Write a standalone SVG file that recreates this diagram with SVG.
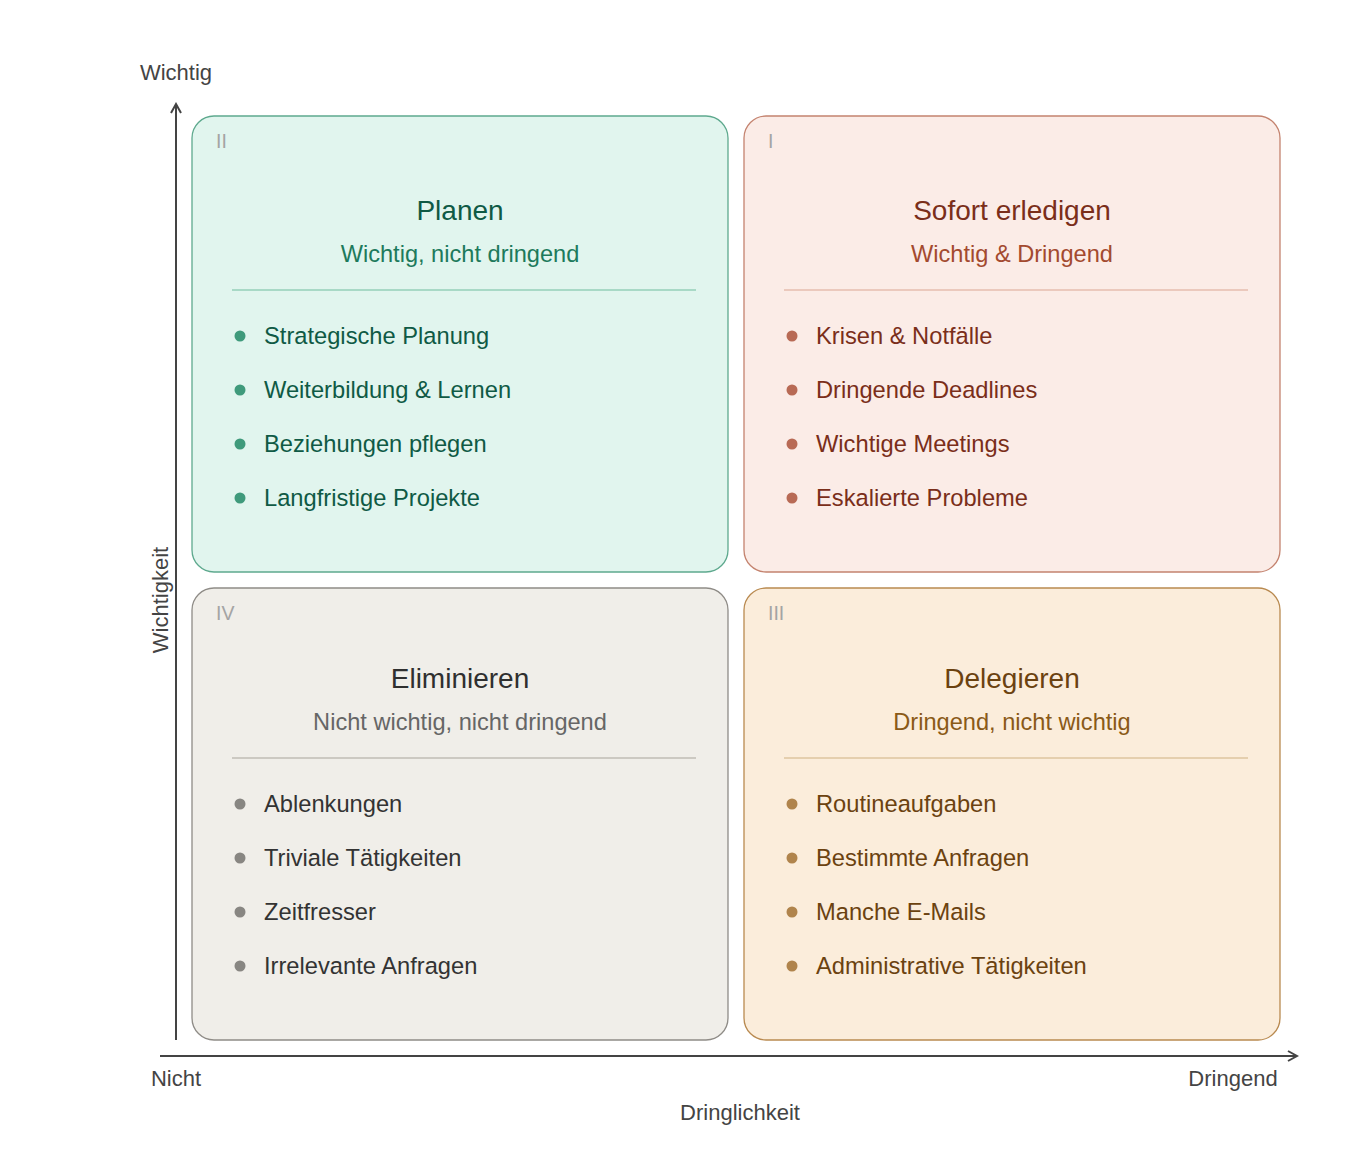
<svg xmlns="http://www.w3.org/2000/svg" width="1360" height="1160" viewBox="0 0 1360 1160">
<defs>
<style>
text{font-family:"Liberation Sans",Arial,sans-serif}
.ax{fill:#444;font-size:22px}
.num{fill:#a4a4a4;font-size:19.5px}
.t{font-size:28px;text-anchor:middle}
.s{font-size:23.6px;text-anchor:middle}
.i{font-size:23.7px}
.axis{stroke:#444;stroke-width:2;fill:none}
</style>
<marker id="arr" viewBox="0 0 12 12" refX="10" refY="6" markerWidth="12" markerHeight="12" markerUnits="userSpaceOnUse" orient="auto">
<path d="M1,1 L10,6 L1,11" fill="none" stroke="#444" stroke-width="2"/>
</marker>
</defs>
<rect width="1360" height="1160" fill="#fff"/>
<g id="connectors">
<line class="axis" x1="176" y1="1040" x2="176" y2="104" marker-end="url(#arr)"/>
<line class="axis" x1="160" y1="1056" x2="1297" y2="1056" marker-end="url(#arr)"/>
</g>
<g id="axis-labels">
<text class="ax" x="176" y="80" text-anchor="middle">Wichtig</text>
<text class="ax" x="176" y="1086" text-anchor="middle">Nicht</text>
<text class="ax" x="1233" y="1086" text-anchor="middle">Dringend</text>
<text class="ax" x="740" y="1120" text-anchor="middle">Dringlichkeit</text>
<text class="ax" x="0" y="0" text-anchor="middle" transform="translate(168,600) rotate(-90)">Wichtigkeit</text>
</g>
<g id="q2">
<rect x="192" y="116" width="536" height="456" rx="22" fill="#e1f5ee" stroke="#5ea98e" stroke-width="1.3"/>
<text class="num" x="216" y="148">II</text>
<text class="t" x="460" y="220" fill="#0f5a45">Planen</text>
<text class="s" x="460" y="262" fill="#1d7a5c">Wichtig, nicht dringend</text>
<line x1="232" y1="290" x2="696" y2="290" stroke="#a8d9c6" stroke-width="2"/>
<g fill="#3f9a7b"><circle cx="240" cy="336" r="5.5"/><circle cx="240" cy="390" r="5.5"/><circle cx="240" cy="444" r="5.5"/><circle cx="240" cy="498" r="5.5"/></g>
<g fill="#0f5a45">
<text class="i" x="264" y="344">Strategische Planung</text>
<text class="i" x="264" y="398">Weiterbildung &amp; Lernen</text>
<text class="i" x="264" y="452">Beziehungen pflegen</text>
<text class="i" x="264" y="506">Langfristige Projekte</text>
</g>
</g>
<g id="q1">
<rect x="744" y="116" width="536" height="456" rx="22" fill="#fbece7" stroke="#c4836f" stroke-width="1.3"/>
<text class="num" x="768" y="148">I</text>
<text class="t" x="1012" y="220" fill="#7a2e1a">Sofort erledigen</text>
<text class="s" x="1012" y="262" fill="#a34a2f">Wichtig &amp; Dringend</text>
<line x1="784" y1="290" x2="1248" y2="290" stroke="#ebc9bd" stroke-width="2"/>
<g fill="#b86a55"><circle cx="792" cy="336" r="5.5"/><circle cx="792" cy="390" r="5.5"/><circle cx="792" cy="444" r="5.5"/><circle cx="792" cy="498" r="5.5"/></g>
<g fill="#7a2e1a">
<text class="i" x="816" y="344">Krisen &amp; Notfälle</text>
<text class="i" x="816" y="398">Dringende Deadlines</text>
<text class="i" x="816" y="452">Wichtige Meetings</text>
<text class="i" x="816" y="506">Eskalierte Probleme</text>
</g>
</g>
<g id="q4">
<rect x="192" y="588" width="536" height="452" rx="22" fill="#f0eee9" stroke="#8f8c87" stroke-width="1.3"/>
<text class="num" x="216" y="620">IV</text>
<text class="t" x="460" y="688" fill="#2f2f2f">Eliminieren</text>
<text class="s" x="460" y="730" fill="#666">Nicht wichtig, nicht dringend</text>
<line x1="232" y1="758" x2="696" y2="758" stroke="#ccc9c2" stroke-width="2"/>
<g fill="#888682"><circle cx="240" cy="804" r="5.5"/><circle cx="240" cy="858" r="5.5"/><circle cx="240" cy="912" r="5.5"/><circle cx="240" cy="966" r="5.5"/></g>
<g fill="#333">
<text class="i" x="264" y="812">Ablenkungen</text>
<text class="i" x="264" y="866">Triviale Tätigkeiten</text>
<text class="i" x="264" y="920">Zeitfresser</text>
<text class="i" x="264" y="974">Irrelevante Anfragen</text>
</g>
</g>
<g id="q3">
<rect x="744" y="588" width="536" height="452" rx="22" fill="#fbeddb" stroke="#b98a50" stroke-width="1.3"/>
<text class="num" x="768" y="620">III</text>
<text class="t" x="1012" y="688" fill="#6b4210">Delegieren</text>
<text class="s" x="1012" y="730" fill="#8a5a17">Dringend, nicht wichtig</text>
<line x1="784" y1="758" x2="1248" y2="758" stroke="#e5cfae" stroke-width="2"/>
<g fill="#b0844c"><circle cx="792" cy="804" r="5.5"/><circle cx="792" cy="858" r="5.5"/><circle cx="792" cy="912" r="5.5"/><circle cx="792" cy="966" r="5.5"/></g>
<g fill="#6b4210">
<text class="i" x="816" y="812">Routineaufgaben</text>
<text class="i" x="816" y="866">Bestimmte Anfragen</text>
<text class="i" x="816" y="920">Manche E-Mails</text>
<text class="i" x="816" y="974">Administrative Tätigkeiten</text>
</g>
</g>
</svg>
